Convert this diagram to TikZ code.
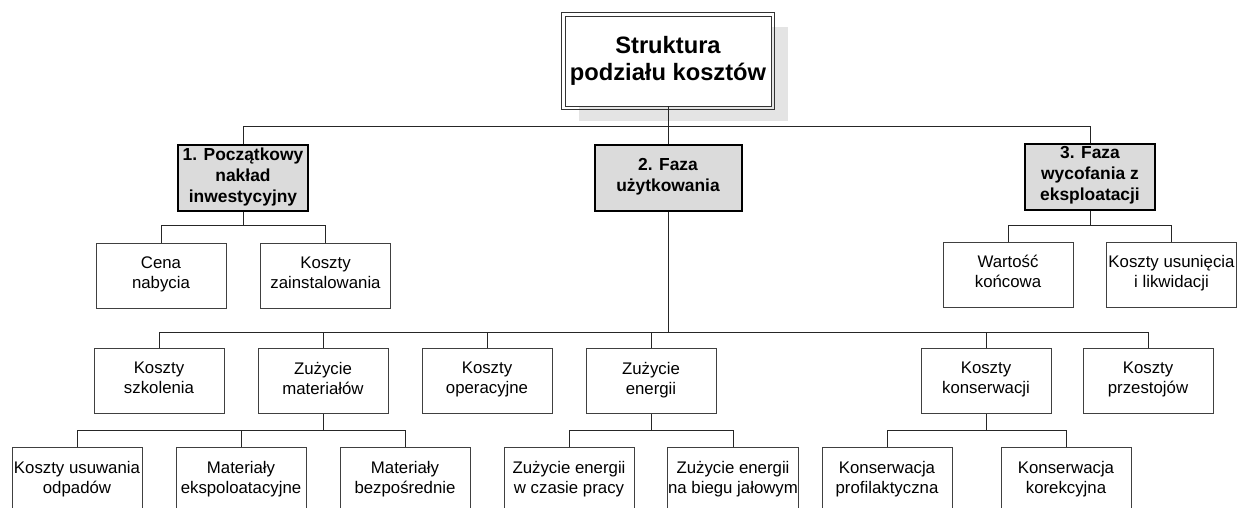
\documentclass[tikz,border=0pt]{standalone}
\usepackage{fontspec}
\setmainfont{Liberation Sans}
\usetikzlibrary{backgrounds}
\definecolor{phasegray}{RGB}{219,219,219}
\definecolor{shadowgray}{RGB}{228,228,228}
\tikzset{
  wire/.style={black!85,line width=1pt},
  root/.style={draw=black!80,line width=0.8pt,fill=white,
               minimum width=206pt,minimum height=90pt,align=center,
               font=\fontsize{23.7}{27}\selectfont\bfseries},
  phase/.style={draw=black,line width=2pt,fill=phasegray,minimum width=130pt,
                minimum height=66pt,inner sep=1pt,align=center,
                font=\fontsize{17.4}{21}\selectfont\bfseries,
                execute at begin node=\strut,execute at end node=\strut},
  item/.style={draw=black!75,line width=1pt,fill=white,minimum width=130pt,
               minimum height=65pt,inner sep=1pt,align=center,
               font=\fontsize{16.8}{20}\selectfont,
               execute at begin node=\strut,execute at end node=\strut},
}

\begin{document}
\begin{tikzpicture}[x=1pt,y=-1pt]
  \useasboundingbox (0,0) rectangle (1237,508);
  \clip (0,0) rectangle (1237,508);

  \node[root] (top) at (668,61) {Struktura\\podziału kosztów};
  \draw[black!80,line width=0.8pt] ([shift={(-3.4,3.4)}]top.south west) rectangle ([shift={(3.4,-3.4)}]top.north east);
  \begin{scope}[on background layer]
    \fill[shadowgray] ([shift={(14,15)}]top.south west) rectangle ([shift={(17,11)}]top.north east);
  \end{scope}

  \node[phase] (ph1) at (243,178) {1. Początkowy\\nakład\\inwestycyjny};
  \node[phase,minimum width=147pt] (ph2) at (668,178) {2. Faza\\użytkowania};
  \node[phase] (ph3) at (1090,177) {3. Faza\\wycofania z\\eksploatacji};

  \coordinate (bus0) at (668,127);
  \draw[wire] (top.south) -- (bus0);
  \foreach \p in {ph1,ph2,ph3}
    \draw[wire] (bus0) -| (\p.north);

  % faza 1
  \node[item] (cena) at (161,276) {Cena\\nabycia};
  \node[item] (inst) at (325.5,276) {Koszty\\zainstalowania};
  \coordinate (bus1) at (243,225);
  \draw[wire] (ph1.south) -- (bus1);
  \foreach \c in {cena,inst}
    \draw[wire] (bus1) -| (\c.north);

  % faza 3
  \node[item] (wart) at (1008,274.5) {Wartość\\końcowa};
  \node[item] (usun) at (1171.5,274.5) {Koszty usunięcia\\i likwidacji};
  \coordinate (bus3) at (1090,225);
  \draw[wire] (ph3.south) -- (bus3);
  \foreach \c in {wart,usun}
    \draw[wire] (bus3) -| (\c.north);

  % faza 2
  \node[item] (szkol) at (159,381) {Koszty\\szkolenia};
  \node[item] (mat) at (323,381) {Zużycie\\materiałów};
  \node[item] (oper) at (487,381) {Koszty\\operacyjne};
  \node[item] (ener) at (651,381) {Zużycie\\energii};
  \node[item] (kons) at (986,381) {Koszty\\konserwacji};
  \node[item] (przest) at (1148,381) {Koszty\\przestojów};
  \coordinate (bus2) at (668,332);
  \draw[wire] (ph2.south) -- (bus2);
  \foreach \c in {szkol,mat,oper,ener,kons,przest}
    \draw[wire] (bus2) -| (\c.north);

  % materialy
  \node[item] (odp) at (77,480) {Koszty usuwania\\odpadów};
  \node[item] (eksp) at (241,480) {Materiały\\ekspoloatacyjne};
  \node[item] (bezp) at (405,480) {Materiały\\bezpośrednie};
  \coordinate (busM) at (323,430);
  \draw[wire] (mat.south) -- (busM);
  \foreach \c in {odp,eksp,bezp}
    \draw[wire] (busM) -| (\c.north);

  % energia
  \node[item] (prac) at (569,480) {Zużycie energii\\w czasie pracy};
  \node[item] (jal) at (733,480) {Zużycie energii\\na biegu jałowym};
  \coordinate (busE) at (651,430);
  \draw[wire] (ener.south) -- (busE);
  \foreach \c in {prac,jal}
    \draw[wire] (busE) -| (\c.north);

  % konserwacja
  \node[item] (prof) at (887,480) {Konserwacja\\profilaktyczna};
  \node[item] (kor) at (1066,480) {Konserwacja\\korekcyjna};
  \coordinate (busK) at (986,430);
  \draw[wire] (kons.south) -- (busK);
  \foreach \c in {prof,kor}
    \draw[wire] (busK) -| (\c.north);
\end{tikzpicture}
\end{document}
